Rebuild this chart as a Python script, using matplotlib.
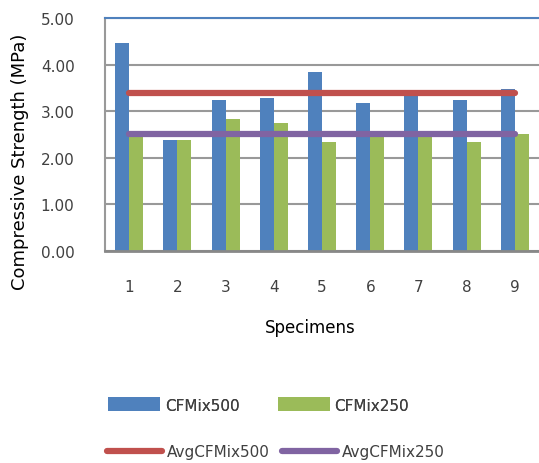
import matplotlib
matplotlib.use("Agg")
import matplotlib.pyplot as plt
import numpy as np

# values
specimens = ["1", "2", "3", "4", "5", "6", "7", "8", "9"]
cfmix500 = [4.47, 2.38, 3.23, 3.28, 3.84, 3.17, 3.35, 3.23, 3.47]
cfmix250 = [2.48, 2.39, 2.83, 2.74, 2.34, 2.50, 2.50, 2.33, 2.50]
avg500 = 3.38
avg250 = 2.51
yticks = [0, 1, 2, 3, 4, 5]

blue = "#4f81bd"
green = "#9bbb59"
red = "#c0504d"
purple = "#8064a2"

plt.rcParams['font.family'] = ['DejaVu Sans']

fig = plt.figure(figsize=(5.39, 4.64), dpi=100)
ax = fig.add_axes([0.195, 0.457, 0.805, 0.502])

x = np.arange(1, len(specimens) + 1)
w = 0.29
b1 = ax.bar(x - w / 2, cfmix500, w, color=blue, label="CFMix500", zorder=2)
b2 = ax.bar(x + w / 2, cfmix250, w, color=green, label="CFMix250", zorder=2)
l1, = ax.plot([x[0], x[-1]], [avg500, avg500], color=red, lw=4.5,
              solid_capstyle="round", label="AvgCFMix500", zorder=3)
l2, = ax.plot([x[0], x[-1]], [avg250, avg250], color=purple, lw=4.5,
              solid_capstyle="round", label="AvgCFMix250", zorder=3)

ax.set_xlim(0.5, 9.5)
ax.set_ylim(0, 5)
ax.set_yticks(yticks)
ax.set_yticklabels(["%.2f" % v for v in yticks], fontsize=11, color="#404040")
ax.set_xticks(x)
ax.set_xticklabels(specimens, fontsize=11, color="#404040")
ax.tick_params(axis="both", length=0)
ax.tick_params(axis="y", pad=22)
ax.tick_params(axis="x", pad=20)
ax.grid(axis="y", color="#999999", lw=1.5, zorder=0)

ax.spines["right"].set_visible(False)
ax.spines["top"].set_color(blue)
ax.spines["top"].set_linewidth(1.5)
ax.spines["left"].set_color("#999999")
ax.spines["left"].set_linewidth(1.5)
ax.spines["bottom"].set_color("#888888")
ax.spines["bottom"].set_linewidth(2)

ax.set_ylabel("Compressive Strength (MPa)", fontsize=13)
ax.yaxis.set_label_coords(-0.175, 0.386)
fig.text(0.575, 0.293, "Specimens", fontsize=12, ha="center", va="center")

leg1 = fig.legend(handles=[b1, b2], loc="center", bbox_to_anchor=(0.48, 0.125),
                  ncol=2, frameon=False, fontsize=11, handlelength=3.4,
                  handleheight=1.0, handletextpad=0.3, columnspacing=2.5,
                  labelcolor="#404040")
fig.legend(handles=[l1, l2], loc="center", bbox_to_anchor=(0.512, 0.025),
           ncol=2, frameon=False, fontsize=11, handlelength=3.6,
           handletextpad=0.3, columnspacing=0.8, labelcolor="#404040")
fig.add_artist(leg1)

fig.savefig("out.png", dpi=100)
